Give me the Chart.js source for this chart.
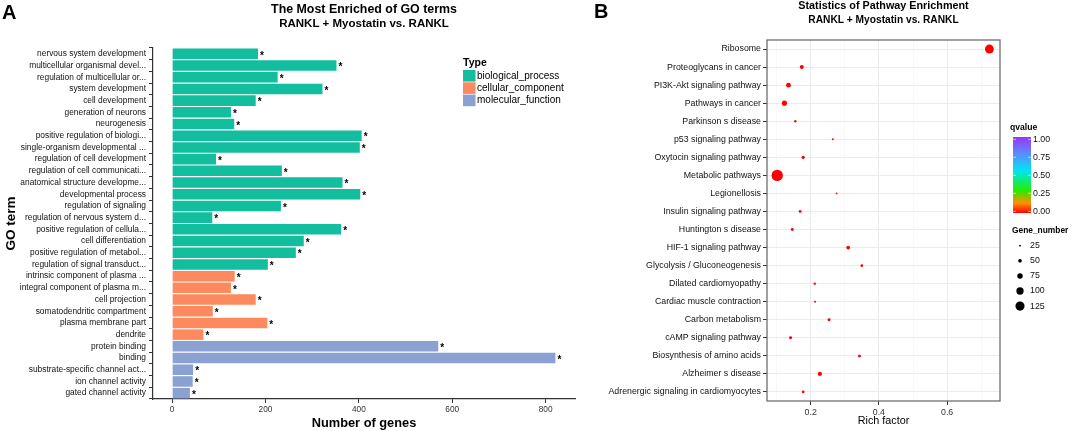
<!DOCTYPE html>
<html>
<head>
<meta charset="utf-8">
<script src="https://cdn.jsdelivr.net/npm/chart.js@4.4.0/dist/chart.umd.min.js"></script>
<style>
  html, body { margin: 0; padding: 0; background: #fff; }
  body { width: 1072px; height: 431px; position: relative; overflow: hidden; font-family: "Liberation Sans", Arial, sans-serif; }
  .panel { position: absolute; top: 0; height: 431px; }
  #wrapA { left: 0; width: 590px; }
  #wrapB { left: 540px; width: 532px; }
  .tag { position: absolute; font-weight: bold; font-size: 20px; line-height: 20px; color: #000; z-index: 2; }
</style>
</head>
<body>
<div class="tag" style="left:2px;top:2px">A</div>
<div class="tag" style="left:594px;top:1px">B</div>
<div id="wrapA" class="panel"><canvas id="goChart" width="590" height="431"></canvas></div>
<div id="wrapB" class="panel"><canvas id="keggChart" width="532" height="431"></canvas></div>
<script>
// ---- panel A data: GO terms ----
const goTerms = [
  'nervous system development', 'multicellular organismal devel...', 'regulation of multicellular or...',
  'system development', 'cell development', 'generation of neurons', 'neurogenesis',
  'positive regulation of biologi...', 'single-organism developmental ...', 'regulation of cell development',
  'regulation of cell communicati...', 'anatomical structure developme...', 'developmental process',
  'regulation of signaling', 'regulation of nervous system d...', 'positive regulation of cellula...',
  'cell differentiation', 'positive regulation of metabol...', 'regulation of signal transduct...',
  'intrinsic component of plasma ...', 'integral component of plasma m...', 'cell projection',
  'somatodendritic compartment', 'plasma membrane part', 'dendrite',
  'protein binding', 'binding', 'substrate-specific channel act...', 'ion channel activity', 'gated channel activity'
];
const goCounts = [184, 352, 226, 322, 179, 126, 133, 406, 402, 94, 235, 365, 403, 233, 86, 362, 282, 265, 205,
                  134, 126, 179, 87, 204, 67,
                  570, 821, 45, 44, 38];
const goTypes = [
  'biological_process', 'biological_process', 'biological_process', 'biological_process', 'biological_process',
  'biological_process', 'biological_process', 'biological_process', 'biological_process', 'biological_process',
  'biological_process', 'biological_process', 'biological_process', 'biological_process', 'biological_process',
  'biological_process', 'biological_process', 'biological_process', 'biological_process',
  'cellular_component', 'cellular_component', 'cellular_component', 'cellular_component', 'cellular_component', 'cellular_component',
  'molecular_function', 'molecular_function', 'molecular_function', 'molecular_function', 'molecular_function'
];
const typeNames = ['biological_process', 'cellular_component', 'molecular_function'];
const typeColors = ['#12BE9E', '#FC8A5E', '#8AA1D1'];
const goTicks = [0, 200, 400, 600, 800];

// ---- panel B data: pathways ----
const pathways = [
  'Ribosome', 'Proteoglycans in cancer', 'PI3K-Akt signaling pathway', 'Pathways in cancer',
  'Parkinson s disease', 'p53 signaling pathway', 'Oxytocin signaling pathway', 'Metabolic pathways',
  'Legionellosis', 'Insulin signaling pathway', 'Huntington s disease', 'HIF-1 signaling pathway',
  'Glycolysis / Gluconeogenesis', 'Dilated cardiomyopathy', 'Cardiac muscle contraction', 'Carbon metabolism',
  'cAMP signaling pathway', 'Biosynthesis of amino acids', 'Alzheimer s disease', 'Adrenergic signaling in cardiomyocytes'
];
const richFactor = [0.724, 0.174, 0.135, 0.123, 0.155, 0.265, 0.178, 0.102, 0.276, 0.169,
                    0.146, 0.310, 0.350, 0.212, 0.213, 0.254, 0.141, 0.343, 0.227, 0.178];
const geneNumber = [122, 55, 66, 70, 32, 27, 45, 155, 23, 37,
                    41, 52, 37, 32, 27, 41, 41, 41, 58, 37];
const qValues = [0, 0, 0, 0, 0, 0, 0, 0, 0, 0,
                 0, 0, 0, 0, 0, 0, 0, 0, 0, 0];
const richTicks = [0.1, 0.2, 0.3, 0.4, 0.5, 0.6, 0.7];
const richLabels = [0.2, 0.4, 0.6];
const qLegendTicks = [1.00, 0.75, 0.50, 0.25, 0.00];
const sizeBreaks = [25, 50, 75, 100, 125];
const qColorStops = [[0, '#FF0000'], [0.13, '#FF9000'], [0.3, '#22EE00'], [0.55, '#00E6F0'], [0.78, '#5A8CFF'], [1, '#9A35F5']];

const FONT = '"Liberation Sans", Arial, sans-serif';
Chart.defaults.font.family = FONT;

function sizeToRadius(n) { return 0.0365 * n; }

function hexToRgb(h) { return [1, 3, 5].map(i => parseInt(h.substr(i, 2), 16)); }
function qColor(q) {
  for (let i = 1; i < qColorStops.length; i++) {
    if (q <= qColorStops[i][0]) {
      const [p0, c0] = qColorStops[i - 1], [p1, c1] = qColorStops[i];
      const t = (q - p0) / (p1 - p0);
      const a = hexToRgb(c0), b = hexToRgb(c1);
      return 'rgb(' + a.map((v, k) => Math.round(v + (b[k] - v) * t)).join(',') + ')';
    }
  }
  return qColorStops[qColorStops.length - 1][1];
}

// asterisk after every bar
const starPlugin = {
  id: 'stars',
  afterDatasetsDraw(chart) {
    const ctx = chart.ctx;
    ctx.save();
    ctx.font = 'bold 10px ' + FONT;
    ctx.fillStyle = '#000';
    ctx.textAlign = 'left';
    ctx.textBaseline = 'middle';
    chart.getDatasetMeta(0).data.forEach(bar => ctx.fillText('*', bar.x + 2, bar.y + 2));
    ctx.restore();
  }
};

const typeLegend = {
  id: 'typeLegend',
  afterDraw(chart) {
    const ctx = chart.ctx;
    ctx.save();
    ctx.textBaseline = 'middle';
    ctx.textAlign = 'left';
    ctx.fillStyle = '#000';
    ctx.font = 'bold 10.5px ' + FONT;
    ctx.fillText('Type', 463, 63);
    ctx.font = '10px ' + FONT;
    typeNames.forEach((name, i) => {
      const y = 70 + i * 12.3;
      ctx.fillStyle = typeColors[i];
      ctx.fillRect(463, y, 12.5, 11.6);
      ctx.fillStyle = '#000';
      ctx.fillText(name, 477, y + 6);
    });
    ctx.restore();
  }
};

new Chart(document.getElementById('goChart'), {
  type: 'bar',
  data: {
    labels: goTerms,
    datasets: [{
      data: goCounts,
      backgroundColor: goTypes.map(t => typeColors[typeNames.indexOf(t)]),
      barPercentage: 0.9,
      categoryPercentage: 1.0
    }]
  },
  options: {
    indexAxis: 'y',
    responsive: false,
    animation: false,
    devicePixelRatio: 1,
    layout: { padding: { left: 0, right: 15, top: 0, bottom: 0 } },
    plugins: {
      legend: { display: false },
      tooltip: { enabled: false },
      title: {
        display: true, text: 'The Most Enriched of GO terms', fullSize: false, color: '#000',
        font: { size: 12.4, weight: 'bold' }, padding: { top: 2, bottom: 0 }
      },
      subtitle: {
        display: true, text: 'RANKL + Myostatin vs. RANKL', fullSize: false, color: '#000',
        font: { size: 11.5, weight: 'bold' }, padding: { top: 0.5, bottom: 16.8 }
      }
    },
    scales: {
      x: {
        type: 'linear', min: -41, max: 863,
        afterBuildTicks: ax => { ax.ticks = goTicks.map(v => ({ value: v })); },
        afterFit: ax => { ax.height = 32; },
        grid: { display: true, drawOnChartArea: false, drawTicks: true, tickLength: 4, color: '#333', lineWidth: 1 },
        border: { display: true, color: '#333', width: 1.2 },
        ticks: { font: { size: 8.3 }, color: '#333', padding: 2, maxRotation: 0 },
        title: { display: true, text: 'Number of genes', color: '#000', font: { size: 12.8, weight: 'bold' }, padding: 0 }
      },
      y: {
        afterFit: ax => { ax.width = 153; },
        grid: { display: true, drawOnChartArea: false, drawTicks: true, tickLength: 4, color: '#333', lineWidth: 1 },
        border: { display: true, color: '#333', width: 1.2 },
        ticks: { font: { size: 8.4 }, color: '#111', padding: 3, autoSkip: false },
        title: { display: true, text: 'GO term', color: '#000', font: { size: 13.5, weight: 'bold' }, padding: { top: 3, bottom: 0 } }
      }
    }
  },
  plugins: [starPlugin, typeLegend]
});

// frame around panel B plot area
const framePlugin = {
  id: 'frame',
  beforeDatasetsDraw(chart) {
    const { ctx, chartArea: a } = chart;
    ctx.save();
    ctx.strokeStyle = '#6f6f6f';
    ctx.lineWidth = 1.3;
    ctx.strokeRect(a.left, a.top, a.right - a.left, a.bottom - a.top);
    ctx.restore();
  }
};

const keggLegend = {
  id: 'keggLegend',
  afterDraw(chart) {
    const ctx = chart.ctx;
    ctx.save();
    ctx.textBaseline = 'middle';
    ctx.textAlign = 'left';
    ctx.fillStyle = '#000';
    ctx.font = 'bold 8.6px ' + FONT;
    ctx.fillText('qvalue', 470, 128);
    // colour bar
    const top = 137, bottom = 213;
    const g = ctx.createLinearGradient(0, bottom, 0, top);
    qColorStops.forEach(([p, c]) => g.addColorStop(p, c));
    ctx.fillStyle = g;
    ctx.fillRect(473, top, 18, bottom - top);
    ctx.font = '8.8px ' + FONT;
    ctx.fillStyle = '#111';
    qLegendTicks.forEach(v => {
      const y = 211.3 - v * 72;
      ctx.strokeStyle = '#fff';
      ctx.lineWidth = 0.6;
      ctx.beginPath(); ctx.moveTo(473, y); ctx.lineTo(476, y); ctx.moveTo(488, y); ctx.lineTo(491, y); ctx.stroke();
      ctx.fillText(v.toFixed(2), 493, y);
    });
    // size legend
    ctx.fillStyle = '#000';
    ctx.font = 'bold 8.4px ' + FONT;
    ctx.fillText('Gene_number', 472, 231);
    ctx.font = '8.8px ' + FONT;
    sizeBreaks.forEach((n, i) => {
      const y = 245.7 + i * 15.1;
      ctx.fillStyle = '#000';
      ctx.beginPath(); ctx.arc(480, y, sizeToRadius(n), 0, Math.PI * 2); ctx.fill();
      ctx.fillStyle = '#111';
      ctx.fillText(String(n), 490, y);
    });
    ctx.restore();
  }
};

new Chart(document.getElementById('keggChart'), {
  type: 'scatter',
  data: {
    datasets: [{
      data: pathways.map((p, i) => ({ x: richFactor[i], y: p })),
      pointRadius: geneNumber.map(sizeToRadius),
      pointHoverRadius: geneNumber.map(sizeToRadius),
      backgroundColor: qValues.map(qColor),
      borderWidth: 0
    }]
  },
  options: {
    responsive: false,
    animation: false,
    devicePixelRatio: 1,
    layout: { padding: { left: 0, right: 72, top: 0, bottom: 0 } },
    plugins: {
      legend: { display: false },
      tooltip: { enabled: false },
      title: {
        display: true, text: 'Statistics of Pathway Enrichment', fullSize: false, color: '#000',
        font: { size: 10.8, weight: 'bold' }, padding: { top: 0, bottom: 0 }
      },
      subtitle: {
        display: true, text: 'RANKL + Myostatin vs. RANKL', fullSize: false, color: '#000',
        font: { size: 10.2, weight: 'bold' }, padding: { top: 1, bottom: 13.8 }
      }
    },
    scales: {
      x: {
        type: 'linear', min: 0.072, max: 0.755,
        afterBuildTicks: ax => { ax.ticks = richTicks.map(v => ({ value: v })); },
        afterFit: ax => { ax.height = 30; },
        grid: {
          display: true, drawTicks: true, tickLength: 4,
          color: c => richLabels.includes(c.tick && c.tick.value) ? '#EBEBEB' : '#F4F4F4',
          lineWidth: c => richLabels.includes(c.tick && c.tick.value) ? 1 : 0.6,
          tickColor: c => richLabels.includes(c.tick && c.tick.value) ? '#333' : 'rgba(0,0,0,0)'
        },
        border: { display: false },
        ticks: {
          font: { size: 8.8 }, color: '#333', padding: 2, maxRotation: 0,
          callback: v => richLabels.includes(v) ? String(v) : ''
        },
        title: { display: true, text: 'Rich factor', color: '#000', font: { size: 10.8 }, padding: { top: 0, bottom: 3 } }
      },
      y: {
        type: 'category',
        labels: pathways,
        offset: true,
        afterFit: ax => { ax.width = 227; },
        grid: { display: true, drawTicks: true, tickLength: 4, color: '#EBEBEB', lineWidth: 1, tickColor: '#333' },
        border: { display: false },
        ticks: { font: { size: 8.8 }, color: '#111', padding: 2, autoSkip: false }
      }
    }
  },
  plugins: [framePlugin, keggLegend]
});
</script>
</body>
</html>
